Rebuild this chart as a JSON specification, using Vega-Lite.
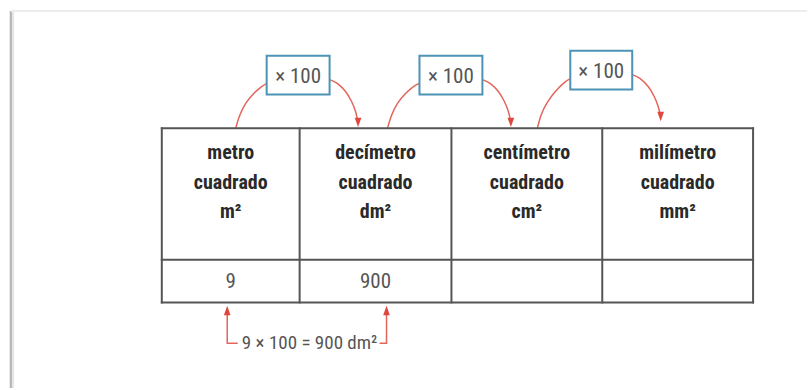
{
  "$schema": "https://vega.github.io/schema/vega-lite/v6.json",
  "width": 808,
  "height": 390,
  "padding": 0,
  "autosize": {"type": "fit", "contains": "padding"},
  "background": "white",
  "config": {"view": {"stroke": null}},
  "datasets": {
    "frame": [
      {"x": 11, "y": 11, "x2": 11, "y2": 390, "part": "left"},
      {"x": 13, "y": 12, "x2": 13, "y2": 390, "part": "shade"},
      {"x": 11, "y": 11, "x2": 808, "y2": 11, "part": "top"}
    ],
    "grid": [
      {"x": 162, "y": 129, "x2": 754, "y2": 129},
      {"x": 162, "y": 304, "x2": 754, "y2": 304},
      {"x": 162, "y": 261, "x2": 754, "y2": 261},
      {"x": 162, "y": 129, "x2": 162, "y2": 304},
      {"x": 300, "y": 129, "x2": 300, "y2": 304},
      {"x": 452, "y": 129, "x2": 452, "y2": 304},
      {"x": 603, "y": 129, "x2": 603, "y2": 304},
      {"x": 754, "y": 129, "x2": 754, "y2": 304}
    ],
    "headers": [
      {"x": 231, "y": 160, "t": "metro"},
      {"x": 231, "y": 190, "t": "cuadrado"},
      {"x": 231, "y": 219, "t": "m²"},
      {"x": 376, "y": 160, "t": "decímetro"},
      {"x": 376, "y": 190, "t": "cuadrado"},
      {"x": 376, "y": 219, "t": "dm²"},
      {"x": 527.5, "y": 160, "t": "centímetro"},
      {"x": 527.5, "y": 190, "t": "cuadrado"},
      {"x": 527.5, "y": 219, "t": "cm²"},
      {"x": 678.5, "y": 160, "t": "milímetro"},
      {"x": 678.5, "y": 190, "t": "cuadrado"},
      {"x": 678.5, "y": 219, "t": "mm²"}
    ],
    "values": [
      {"x": 231, "y": 289, "t": "9"},
      {"x": 376, "y": 289, "t": "900"}
    ],
    "formula": [
      {"x": 310, "y": 351, "t": "9 × 100 = 900 dm²"}
    ],
    "boxes": [
      {"x": 267, "x2": 330, "y": 56, "y2": 95, "cx": 298.5, "ty": 83.5, "t": "× 100"},
      {"x": 420, "x2": 483, "y": 56, "y2": 95, "cx": 451.5, "ty": 83.5, "t": "× 100"},
      {"x": 571, "x2": 633, "y": 51, "y2": 90, "cx": 602, "ty": 78.5, "t": "× 100"}
    ],
    "arcs": [
      {"id": "1a", "i": 0, "x": 236, "y": 129},
      {"id": "1a", "i": 1, "x": 240, "y": 116},
      {"id": "1a", "i": 2, "x": 246, "y": 104},
      {"id": "1a", "i": 3, "x": 254, "y": 94},
      {"id": "1a", "i": 4, "x": 262, "y": 87},
      {"id": "1a", "i": 5, "x": 267, "y": 84},
      {"id": "1b", "i": 0, "x": 330, "y": 80},
      {"id": "1b", "i": 1, "x": 338, "y": 84},
      {"id": "1b", "i": 2, "x": 346, "y": 92},
      {"id": "1b", "i": 3, "x": 352, "y": 102},
      {"id": "1b", "i": 4, "x": 356, "y": 112},
      {"id": "1b", "i": 5, "x": 358, "y": 121},
      {"id": "2a", "i": 0, "x": 388, "y": 129},
      {"id": "2a", "i": 1, "x": 392, "y": 116},
      {"id": "2a", "i": 2, "x": 398, "y": 104},
      {"id": "2a", "i": 3, "x": 406, "y": 94},
      {"id": "2a", "i": 4, "x": 414, "y": 87},
      {"id": "2a", "i": 5, "x": 420, "y": 84},
      {"id": "2b", "i": 0, "x": 483, "y": 80},
      {"id": "2b", "i": 1, "x": 491, "y": 84},
      {"id": "2b", "i": 2, "x": 499, "y": 92},
      {"id": "2b", "i": 3, "x": 505, "y": 102},
      {"id": "2b", "i": 4, "x": 509, "y": 112},
      {"id": "2b", "i": 5, "x": 511, "y": 121},
      {"id": "3a", "i": 0, "x": 538, "y": 129},
      {"id": "3a", "i": 1, "x": 542, "y": 115},
      {"id": "3a", "i": 2, "x": 548, "y": 103},
      {"id": "3a", "i": 3, "x": 556, "y": 92},
      {"id": "3a", "i": 4, "x": 565, "y": 83},
      {"id": "3a", "i": 5, "x": 571, "y": 79},
      {"id": "3b", "i": 0, "x": 633, "y": 75},
      {"id": "3b", "i": 1, "x": 641, "y": 79},
      {"id": "3b", "i": 2, "x": 649, "y": 87},
      {"id": "3b", "i": 3, "x": 655, "y": 97},
      {"id": "3b", "i": 4, "x": 659, "y": 107},
      {"id": "3b", "i": 5, "x": 661, "y": 115}
    ],
    "heads": [
      {"x": 358.5, "y": 123, "dir": "down"},
      {"x": 511.5, "y": 123, "dir": "down"},
      {"x": 661.5, "y": 117, "dir": "down"},
      {"x": 227.5, "y": 312, "dir": "up"},
      {"x": 387, "y": 312, "dir": "up"}
    ],
    "brackets": [
      {"id": "L", "i": 0, "x": 238, "y": 345},
      {"id": "L", "i": 1, "x": 227.5, "y": 345},
      {"id": "L", "i": 2, "x": 227.5, "y": 314},
      {"id": "R", "i": 0, "x": 380, "y": 345},
      {"id": "R", "i": 1, "x": 387, "y": 345},
      {"id": "R", "i": 2, "x": 387, "y": 314}
    ]
  },
  "layer": [
    {
      "data": {"name": "frame"},
      "mark": {"type": "rule"},
      "encoding": {
        "x": {"field": "x", "type": "quantitative", "scale": {"domain": [0, 808], "nice": false, "zero": false}, "axis": null},
        "y": {"field": "y", "type": "quantitative", "scale": {"domain": [0, 390], "nice": false, "zero": false, "reverse": true}, "axis": null},
        "x2": {"field": "x2"},
        "y2": {"field": "y2"},
        "color": {"field": "part", "type": "nominal", "scale": {"domain": ["left", "shade", "top"], "range": ["#b4b4b4", "#e6e6e6", "#ededed"]}, "legend": null},
        "strokeWidth": {"field": "part", "type": "nominal", "scale": {"domain": ["left", "shade", "top"], "range": [2.5, 2, 2]}, "legend": null}
      }
    },
    {
      "data": {"name": "arcs"},
      "mark": {"type": "line", "interpolate": "cardinal", "color": "#e2665c", "strokeWidth": 1.5},
      "encoding": {
        "x": {"field": "x", "type": "quantitative"},
        "y": {"field": "y", "type": "quantitative"},
        "detail": {"field": "id"},
        "order": {"field": "i", "type": "quantitative"}
      }
    },
    {
      "data": {"name": "brackets"},
      "mark": {"type": "line", "color": "#e2665c", "strokeWidth": 1.5},
      "encoding": {
        "x": {"field": "x", "type": "quantitative"},
        "y": {"field": "y", "type": "quantitative"},
        "detail": {"field": "id"},
        "order": {"field": "i", "type": "quantitative"}
      }
    },
    {
      "data": {"name": "heads"},
      "mark": {"type": "point", "filled": true, "color": "#e0473c", "opacity": 1, "size": 90},
      "encoding": {
        "x": {"field": "x", "type": "quantitative"},
        "y": {"field": "y", "type": "quantitative"},
        "shape": {"field": "dir", "type": "nominal", "scale": {"domain": ["down", "up"], "range": ["M-0.7,-1L0.7,-1L0,1Z", "M-0.7,1L0.7,1L0,-1Z"]}, "legend": null}
      }
    },
    {
      "data": {"name": "grid"},
      "mark": {"type": "rule", "color": "#555555", "strokeWidth": 2, "strokeCap": "square"},
      "encoding": {
        "x": {"field": "x", "type": "quantitative"},
        "y": {"field": "y", "type": "quantitative"},
        "x2": {"field": "x2"},
        "y2": {"field": "y2"}
      }
    },
    {
      "data": {"name": "boxes"},
      "mark": {"type": "rect", "fill": "white", "stroke": "#4d93b5", "strokeWidth": 2},
      "encoding": {
        "x": {"field": "x", "type": "quantitative"},
        "x2": {"field": "x2"},
        "y": {"field": "y", "type": "quantitative"},
        "y2": {"field": "y2"}
      }
    },
    {
      "data": {"name": "boxes"},
      "mark": {"type": "text", "font": "'Roboto Condensed', Roboto, sans-serif", "fontSize": 21, "fontWeight": 400, "color": "#555555", "baseline": "alphabetic", "align": "center"},
      "encoding": {
        "x": {"field": "cx", "type": "quantitative"},
        "y": {"field": "ty", "type": "quantitative"},
        "text": {"field": "t"}
      }
    },
    {
      "data": {"name": "headers"},
      "mark": {"type": "text", "font": "'Roboto Condensed', Roboto, sans-serif", "fontSize": 20, "fontWeight": "bold", "color": "#2a2a2a", "baseline": "alphabetic", "align": "center"},
      "encoding": {
        "x": {"field": "x", "type": "quantitative"},
        "y": {"field": "y", "type": "quantitative"},
        "text": {"field": "t"}
      }
    },
    {
      "data": {"name": "values"},
      "mark": {"type": "text", "font": "'Roboto Condensed', Roboto, sans-serif", "fontSize": 21, "fontWeight": 400, "color": "#555555", "baseline": "alphabetic", "align": "center"},
      "encoding": {
        "x": {"field": "x", "type": "quantitative"},
        "y": {"field": "y", "type": "quantitative"},
        "text": {"field": "t"}
      }
    },
    {
      "data": {"name": "formula"},
      "mark": {"type": "text", "font": "'Roboto Condensed', Roboto, sans-serif", "fontSize": 19, "fontWeight": 400, "color": "#555555", "baseline": "alphabetic", "align": "center"},
      "encoding": {
        "x": {"field": "x", "type": "quantitative"},
        "y": {"field": "y", "type": "quantitative"},
        "text": {"field": "t"}
      }
    }
  ]
}
